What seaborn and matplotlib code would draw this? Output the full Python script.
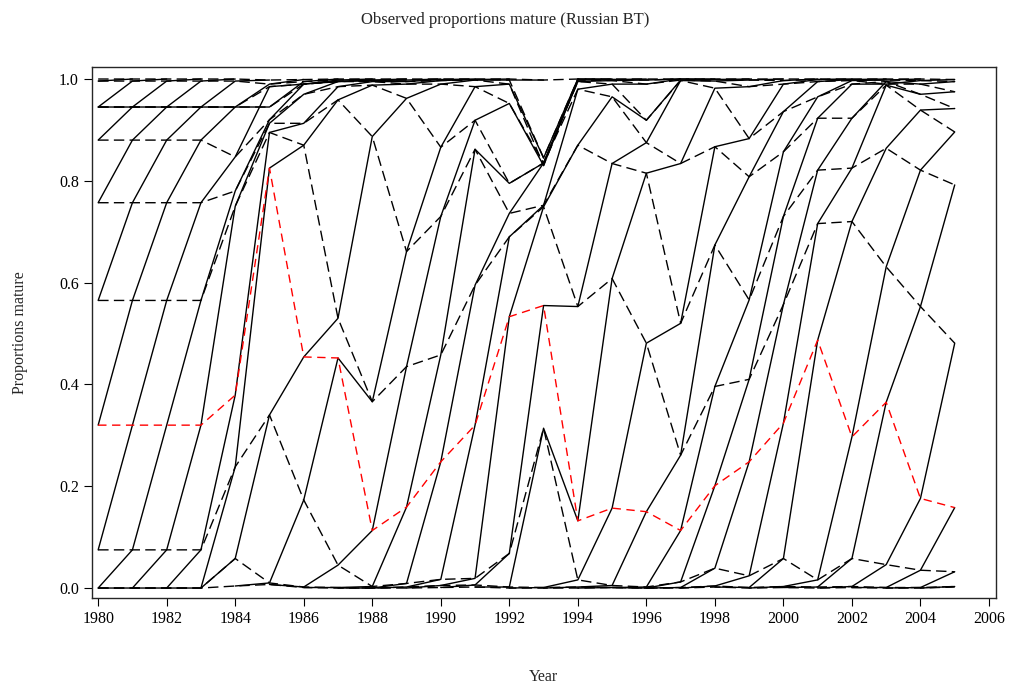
import numpy as np
import pandas as pd
import matplotlib
matplotlib.use("Agg")
import matplotlib.pyplot as plt
import seaborn as sns

# years of observation
years = list(range(1980, 2006))

# observed proportions mature by age (one list per age, 1980..2005)
age2 = [0, 0, 0, 0, 0.004, 0.007, 0.001, 0, 0, 0, 0.001, 0.002, 0,
        0, 0, 0.001, 0, 0, 0.002, 0, 0.001, 0, 0.001, 0, 0, 0.002]
age3 = [0, 0, 0, 0, 0.058, 0.010, 0.002, 0.001, 0, 0.002, 0.005, 0.006, 0.002,
        0.001, 0.002, 0.001, 0, 0.001, 0.004, 0.001, 0.003, 0.002, 0.003, 0.001, 0.001, 0.003]
age4 = [0.075, 0.075, 0.075, 0.075, 0.238, 0.340, 0.173, 0.045, 0.003, 0.009, 0.017, 0.019, 0.068,
        0.314, 0.016, 0.005, 0.002, 0.012, 0.039, 0.024, 0.058, 0.016, 0.058, 0.046, 0.035, 0.032]
age5 = [0.32, 0.32, 0.32, 0.32, 0.379, 0.825, 0.454, 0.452, 0.113, 0.159, 0.248, 0.32, 0.533,
        0.555, 0.132, 0.157, 0.15, 0.113, 0.201, 0.248, 0.324, 0.487, 0.297, 0.365, 0.176, 0.158]
age6 = [0.565, 0.565, 0.565, 0.565, 0.75, 0.895, 0.87, 0.53, 0.366, 0.435, 0.458, 0.595, 0.69,
        0.749, 0.553, 0.608, 0.481, 0.261, 0.396, 0.41, 0.557, 0.716, 0.72, 0.631, 0.553, 0.481]
age7 = [0.757, 0.757, 0.757, 0.757, 0.78, 0.913, 0.913, 0.959, 0.887, 0.661, 0.73, 0.862, 0.736,
        0.752, 0.87, 0.834, 0.815, 0.52, 0.674, 0.566, 0.73, 0.821, 0.825, 0.864, 0.821, 0.792]
age8 = [0.88, 0.88, 0.88, 0.88, 0.847, 0.92, 0.97, 0.985, 0.988, 0.962, 0.866, 0.919, 0.795,
        0.835, 0.98, 0.965, 0.875, 0.834, 0.867, 0.808, 0.857, 0.923, 0.923, 0.988, 0.939, 0.896]
age9 = [0.945, 0.945, 0.945, 0.945, 0.945, 0.985, 0.99, 0.995, 0.995, 0.99, 0.99, 0.985, 0.952,
        0.835, 0.995, 0.99, 0.919, 0.997, 0.982, 0.883, 0.936, 0.965, 0.99, 0.995, 0.97, 0.942]
age10 = [0.945, 0.945, 0.945, 0.945, 0.945, 0.945, 0.99, 0.995, 0.997, 0.995, 0.997, 0.998, 0.99,
         0.83, 0.998, 0.997, 0.99, 0.998, 0.996, 0.985, 0.99, 0.995, 0.997, 0.99, 0.99, 0.975]
age11 = [0.996, 0.996, 0.996, 0.996, 0.996, 0.99, 0.995, 0.998, 0.998, 0.998, 0.999, 0.999, 0.998,
         0.845, 1.0, 0.999, 0.998, 1.0, 0.999, 0.998, 0.997, 0.999, 0.999, 0.998, 0.997, 0.995]
age12 = [1.0, 1.0, 1.0, 1.0, 1.0, 0.998, 0.999, 1.0, 1.0, 1.0, 1.0, 1.0, 1.0,
         0.998, 1.0, 1.0, 1.0, 1.0, 1.0, 1.0, 1.0, 1.0, 1.0, 1.0, 1.0, 0.999]

ages = [2, 3, 4, 5, 6, 7, 8, 9, 10, 11, 12]
props = [age2, age3, age4, age5, age6, age7, age8, age9, age10, age11, age12]
red_age = 5

# long table: one row per year and age, cohort = year class
rows = []
for a, p in zip(ages, props):
    for y, v in zip(years, p):
        rows.append((y, a, y - a, v))
df = pd.DataFrame(rows, columns=["year", "age", "cohort", "prop"])

sns.set_style("ticks")
plt.rcParams["font.family"] = ["Liberation Serif", "DejaVu Serif"]

fig = plt.figure(figsize=(10.11, 6.88), dpi=100)
ax = fig.add_axes([0.091, 0.1308, 0.894, 0.7718])

# cohorts: solid lines
sns.lineplot(data=df, x="year", y="prop", units="cohort", estimator=None,
             color="black", lw=1.0, ax=ax, legend=False)

# ages: dashed lines
other = df[df["age"] != red_age]
sns.lineplot(data=other, x="year", y="prop", units="age", estimator=None,
             color="black", lw=1.0, ax=ax, legend=False)
for ln in ax.get_lines()[-len(ages) + 1:]:
    ln.set_dashes((7.5, 3.8))

sns.lineplot(data=df[df["age"] == red_age], x="year", y="prop", color="red",
             lw=1.0, ax=ax, legend=False)
ax.get_lines()[-1].set_dashes((6, 4))

ax.set_xlim(1979.82, 2006.2)
ax.set_ylim(-0.0196, 1.0236)
ax.set_xticks(np.arange(1980, 2007, 2))
ax.set_yticks(np.arange(0, 1.01, 0.2))
ax.set_yticklabels([f"{t:.1f}" for t in np.arange(0, 1.01, 0.2)])
ax.tick_params(axis="both", labelsize=11.5, length=6, width=0.8, colors="black")
for s in ax.spines.values():
    s.set_visible(True)
    s.set_linewidth(1.0)

ax.set_xlabel("Year", fontsize=11.5, labelpad=30)
ax.set_ylabel("Proportions mature", fontsize=11.5, labelpad=22)
fig.suptitle("Observed proportions mature (Russian BT)", fontsize=12, y=0.982)

fig.savefig("out.png", dpi=100)
